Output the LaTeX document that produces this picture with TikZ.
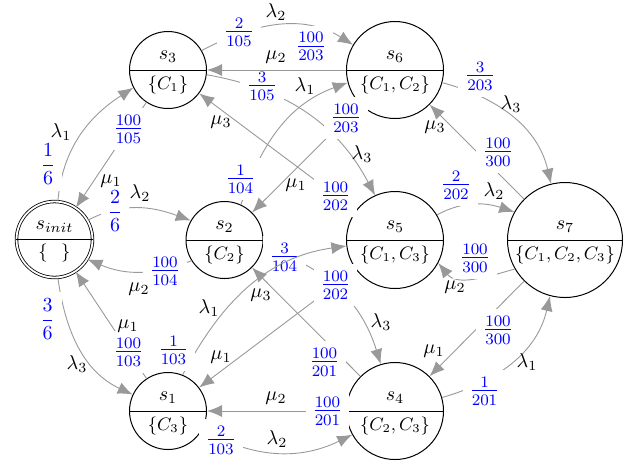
\documentclass[tikz,border=0pt]{standalone}
\usepackage{amsmath}
\usetikzlibrary{arrows.meta}
\begin{document}
\begin{tikzpicture}[x=0.5pt,y=-0.5pt,
  st/.style={circle,draw=black,line width=0.5pt,inner sep=0pt},
  divider/.style={draw=black,line width=0.5pt},
  edge/.style={draw=black!40,line width=0.45pt,-{Latex[length=7.5pt,width=6pt]}},
  rate/.style={fill=white,text=blue,font=\large},
  bigrate/.style={fill=white,text=blue},
  gl/.style={inner sep=0pt},
  up/.style={inner sep=0pt},
  low/.style={inner sep=0pt,font=\small},
]
\useasboundingbox (0,0) rectangle (643,463);
% states
\node[st,double,double distance=0.9pt,line width=0.4pt,minimum size=38pt] (si) at (54.5,239.5) {};
\node[st,minimum size=38.5pt] (s3) at (168,70) {};
\node[st,minimum size=48.5pt] (s6) at (395,70) {};
\node[st,minimum size=38.5pt] (s2) at (224.5,240) {};
\node[st,minimum size=48.5pt] (s5) at (395,240) {};
\node[st,minimum size=57.5pt] (s7) at (565,240) {};
\node[st,minimum size=38.5pt] (s1) at (168,411) {};
\node[st,minimum size=48.5pt] (s4) at (395,411) {};
\foreach \n in {si,s1,s2,s3,s4,s5,s6,s7} {\draw[divider] (\n.west) -- (\n.east);}
\node[up] (si-u) at ([yshift=6.25pt]si.center) {$s_{init}$};
\node[low] (si-l) at ([yshift=-6.75pt]si.center) {$\{\hspace{0.75em}\}$};
\node[up] (s1-u) at ([yshift=6.5pt]s1.center) {$s_1$};
\node[low] (s1-l) at ([yshift=-7.5pt]s1.center) {$\{C_3\}$};
\node[up] (s2-u) at ([yshift=6.5pt]s2.center) {$s_2$};
\node[low] (s2-l) at ([yshift=-7.5pt]s2.center) {$\{C_2\}$};
\node[up] (s3-u) at ([yshift=6.5pt]s3.center) {$s_3$};
\node[low] (s3-l) at ([yshift=-7.5pt]s3.center) {$\{C_1\}$};
\node[up] (s4-u) at ([yshift=6.5pt]s4.center) {$s_4$};
\node[low] (s4-l) at ([yshift=-7.5pt]s4.center) {$\{C_2,C_3\}$};
\node[up] (s5-u) at ([yshift=6.5pt]s5.center) {$s_5$};
\node[low] (s5-l) at ([yshift=-7.5pt]s5.center) {$\{C_1,C_3\}$};
\node[up] (s6-u) at ([yshift=6.5pt]s6.center) {$s_6$};
\node[low] (s6-l) at ([yshift=-7.5pt]s6.center) {$\{C_1,C_2\}$};
\node[up] (s7-u) at ([yshift=6.5pt]s7.center) {$s_7$};
\node[low] (s7-l) at ([yshift=-7.5pt]s7.center) {$\{C_1,C_2,C_3\}$};
% edges from s_init
\draw[edge] (si.85) to[out=85,in=213] (s3.207)
  node[bigrate] (r1) at (48,164) {$\dfrac{1}{6}$} node[gl] (g1) at (61,132) {$\lambda_1$};
\draw[edge] (si.30) to[out=28,in=160] (s2.150)
  node[bigrate] (r2) at (115,211) {$\dfrac{2}{6}$} node[gl] (g2) at (140,193) {$\lambda_2$};
\draw[edge] (si.-85) to[out=-82,in=155] (s1.155)
  node[bigrate] (r3) at (47.5,319) {$\dfrac{3}{6}$} node[gl] (g3) at (77,364) {$\lambda_3$};
% edges from s3
\draw[edge] (s3) -- (si)
  node[rate] (r4) at (128.5,129) {$\frac{100}{105}$} node[gl] (g4) at (111,181) {$\mu_1$};
\draw[edge] (s3.30) to[out=28,in=148] (s6.149)
  node[rate] (r5) at (239,32) {$\frac{2}{105}$} node[gl] (g5) at (276,12) {$\lambda_2$};
\draw[edge] (s3.-7) to[out=-10,in=118] (s5.114)
  node[rate] (r6) at (262,86) {$\frac{3}{105}$} node[gl] (g6) at (362,154) {$\lambda_3$};
% edges from s2
\draw[edge] (s2.212) to[out=202,in=-23] (si.-31)
  node[rate] (r7) at (165,271) {$\frac{100}{104}$} node[gl] (g7) at (139,289) {$\mu_2$};
\draw[edge] (s2.65) to[out=72,in=200] (s6.195)
  node[rate] (r8) at (240.5,179) {$\frac{1}{104}$} node[gl] (g8) at (305,86) {$\lambda_1$};
\draw[edge] (s2.-12) to[out=-15,in=107] (s4.107)
  node[rate] (r9) at (284.5,257) {$\frac{3}{104}$} node[gl] (g9) at (381,322) {$\lambda_3$};
% edges from s1
\draw[edge] (s1) -- (si)
  node[rate] (r10) at (128.5,352) {$\frac{100}{103}$} node[gl] (g10) at (128,326) {$\mu_1$};
\draw[edge] (s1.68) to[out=62,in=188] (s5.187)
  node[rate] (r11) at (173.5,350) {$\frac{1}{103}$} node[gl] (g11) at (209,308) {$\lambda_1$};
\draw[edge] (s1.-28) to[out=-30,in=206] (s4.209)
  node[rate] (r12) at (221,440) {$\frac{2}{103}$} node[gl] (g12) at (277,439) {$\lambda_2$};
% edges from s6
\draw[edge] (s6) -- (s3)
  node[rate] (r13) at (311,46.5) {$\frac{100}{203}$} node[gl] (g13) at (276,57) {$\mu_2$};
\draw[edge] (s6) -- (s2)
  node[rate] (r14) at (346,118) {$\frac{100}{203}$} node[gl] (g14) at (296,185) {$\mu_1$};
\draw[edge] (s6.-15) to[out=-15,in=103] (s7.104)
  node[rate] (r15) at (480,76) {$\frac{3}{203}$} node[gl] (g15) at (511,104) {$\lambda_3$};
% edges from s5
\draw[edge] (s5) -- (s3)
  node[rate] (r16) at (335.5,196) {$\frac{100}{202}$} node[gl] (g16) at (221,122) {$\mu_3$};
\draw[edge] (s5) -- (s1)
  node[rate] (r17) at (335.5,285) {$\frac{100}{202}$} node[gl] (g17) at (221,357) {$\mu_1$};
\draw[edge] (s5.31) to[out=28,in=162] (s7.151)
  node[rate] (r18) at (456,185) {$\frac{2}{202}$} node[gl] (g18) at (494,191) {$\lambda_2$};
% edges from s4
\draw[edge] (s4) -- (s2)
  node[rate] (r19) at (324.5,362) {$\frac{100}{201}$} node[gl] (g19) at (261,295) {$\mu_3$};
\draw[edge] (s4) -- (s1)
  node[rate] (r20) at (327.5,411) {$\frac{100}{201}$} node[gl] (g20) at (276,398) {$\mu_2$};
\draw[edge] (s4.16) to[out=16,in=-103] (s7.-105)
  node[rate] (r21) at (484.5,391) {$\frac{1}{201}$} node[gl] (g21) at (527,362) {$\lambda_1$};
% edges from s7
\draw[edge] (s7) -- (s6)
  node[rate] (r22) at (498,152) {$\frac{100}{300}$} node[gl] (g22) at (435,127) {$\mu_3$};
\draw[edge] (s7.210) to[out=196,in=-51] (s5.-28)
  node[rate] (r23) at (475,258) {$\frac{100}{300}$} node[gl] (g23) at (455,287) {$\mu_2$};
\draw[edge] (s7) -- (s4)
  node[rate] (r24) at (498,330) {$\frac{100}{300}$} node[gl] (g24) at (434,351) {$\mu_1$};
\end{tikzpicture}
\end{document}
